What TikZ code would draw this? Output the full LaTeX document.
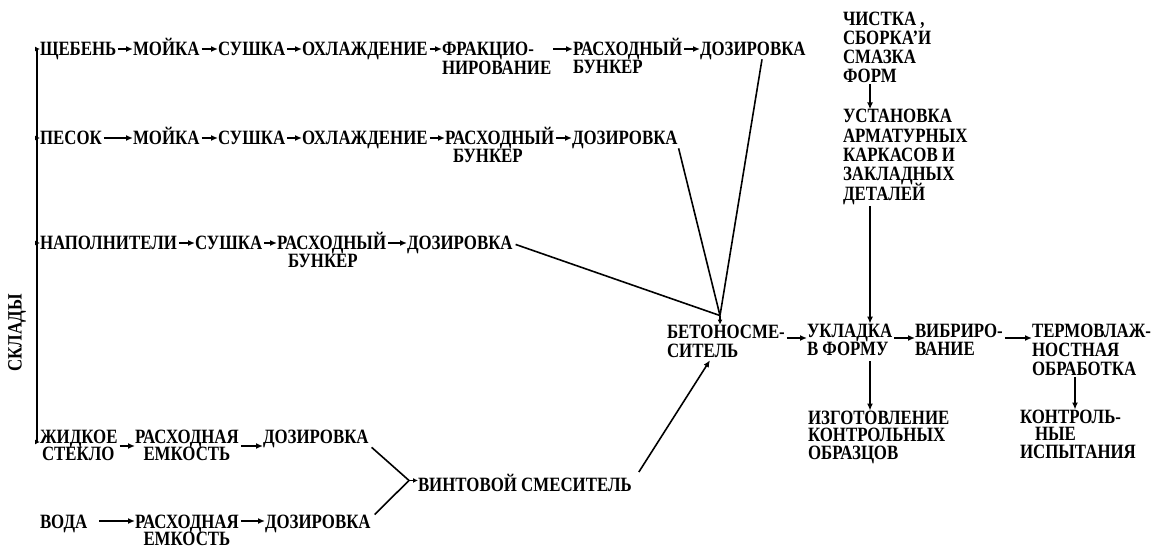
\documentclass[tikz,border=0pt]{standalone}
\usepackage{fontspec}
\newfontfamily\tw{Liberation Serif}[FakeStretch=0.83]
\usetikzlibrary{arrows.meta,calc}
\newcommand\myfs[1]{\fontsize{20.3}{#1}\selectfont\lineskiplimit=-100pt\relax}
\begin{document}
\begin{tikzpicture}[x=1pt,y=-1pt,
  lbl/.style={inner sep=0pt, outer sep=0pt, anchor=base west, align=left, font=\tw\bfseries\myfs{18}},
  lsp/.style={font=\tw\bfseries\myfs{#1}},
  ln/.style={line width=1.6pt},
  arr/.style={line width=1.6pt, -{Latex[length=7pt,width=6pt]}, shorten <=2pt},
  sarr/.style={line width=1.6pt, -{Latex[length=5pt,width=5pt]}}]
\useasboundingbox (0,0) rectangle (1151,555);

% (multi-line nodes are placed by the baseline of their last line)
% row 1
\node[lbl] (n11) at (40,55) {ЩЕБЕНЬ};
\node[lbl] (n12) at (133,55) {МОЙКА};
\node[lbl] (n13) at (218,55) {СУШКА};
\node[lbl] (n14) at (302,55) {ОХЛАЖДЕНИЕ};
\node[lbl,lsp=19] (n15) at (442,74) {ФРАКЦИО-\\НИРОВАНИЕ};
\node[lbl] (n16) at (573,73) {РАСХОДНЫЙ\\БУНКЕР};
\node[lbl] (n17) at (700,55) {ДОЗИРОВКА};
% row 2
\node[lbl] (n21) at (40,144) {ПЕСОК};
\node[lbl] (n22) at (133,144) {МОЙКА};
\node[lbl] (n23) at (218,144) {СУШКА};
\node[lbl] (n24) at (302,144) {ОХЛАЖДЕНИЕ};
\node[lbl] (n25) at (445,162) {РАСХОДНЫЙ\\\hspace*{8pt}БУНКЕР};
\node[lbl] (n26) at (572,144) {ДОЗИРОВКА};
% row 3
\node[lbl] (n31) at (40,249) {НАПОЛНИТЕЛИ};
\node[lbl] (n32) at (195,249) {СУШКА};
\node[lbl] (n33) at (277,267) {РАСХОДНЫЙ\\\hspace*{11pt}БУНКЕР};
\node[lbl] (n34) at (407,249) {ДОЗИРОВКА};
% row 4
\node[lbl,lsp=17.5] (n41) at (40,460.5) {ЖИДКОЕ\\\hspace*{2pt}СТЕКЛО};
\node[lbl,lsp=17.5,align=center] (n42) at (135,460.5) {РАСХОДНАЯ\\ЕМКОСТЬ};
\node[lbl] (n43) at (263,443) {ДОЗИРОВКА};
% row 5
\node[lbl] (n51) at (40,528) {ВОДА};
\node[lbl,lsp=17,align=center] (n52) at (135,545) {РАСХОДНАЯ\\ЕМКОСТЬ};
\node[lbl] (n53) at (265,528) {ДОЗИРОВКА};
% mixers and right part
\node[lbl] (vs) at (418,491) {ВИНТОВОЙ СМЕСИТЕЛЬ};
\node[lbl,lsp=19] (bs) at (667,357) {БЕТОНОСМЕ-\\СИТЕЛЬ};
\node[lbl] (uk) at (807,355) {УКЛАДКА\\В ФОРМУ};
\node[lbl] (vb) at (915,355) {ВИБРИРО-\\ВАНИЕ};
\node[lbl,lsp=19] (tv) at (1032,375) {ТЕРМОВЛАЖ-\\НОСТНАЯ\\ОБРАБОТКА};
\node[lbl,lsp=17.5] (iz) at (808,459) {ИЗГОТОВЛЕНИЕ\\КОНТРОЛЬНЫХ\\ОБРАЗЦОВ};
\node[lbl,lsp=17.5] (ki) at (1020,458) {КОНТРОЛЬ-\\\hspace*{15pt}НЫЕ\\ИСПЫТАНИЯ};
\node[lbl,lsp=19] (ch) at (843,82) {ЧИСТКА ,\\СБОРКА’И\\СМАЗКА\\ФОРМ};
\node[lbl,lsp=19.3] (us) at (843,200) {УСТАНОВКА\\АРМАТУРНЫХ\\КАРКАСОВ И\\ЗАКЛАДНЫХ\\ДЕТАЛЕЙ};
\node[lbl,rotate=90,anchor=center] (sk) at (17,333) {СКЛАДЫ};

% row levels (middle of the first text line)
\coordinate (r1) at (0,49);
\coordinate (r2) at (0,138);
\coordinate (r3) at (0,243);
\coordinate (r4) at (0,446);
\coordinate (r5) at (0,521);

% trunk
\coordinate (t1) at (37,49);
\coordinate (t2) at (37,138);
\coordinate (t3) at (37,243);
\coordinate (t4) at (37,442);
\draw[ln] (t1) -- (t4);
\draw[sarr] (t1) -- (t1 -| n11.west);
\draw[sarr] (t2) -- (t2 -| n21.west);
\draw[sarr] (t3) -- (t3 -| n31.west);
\draw[sarr] (t4) -- (t4 -| n41.west);

% row arrows
\foreach \a/\b in {n11/n12,n12/n13,n13/n14,n14/n15,n15/n16,n16/n17}
  \draw[arr] (\a.east |- r1) -- (\b.west |- r1);
\foreach \a/\b in {n21/n22,n22/n23,n23/n24,n24/n25,n25/n26}
  \draw[arr] (\a.east |- r2) -- (\b.west |- r2);
\foreach \a/\b in {n31/n32,n32/n33,n33/n34}
  \draw[arr] (\a.east |- r3) -- (\b.west |- r3);
\foreach \a/\b in {n41/n42,n42/n43}
  \draw[arr] (\a.east |- r4) -- (\b.west |- r4);
\draw[arr,shorten <=12pt] (n51.east |- r5) -- (n52.west |- r5);
\draw[arr] (n52.east |- r5) -- (n53.west |- r5);

% to screw mixer
\coordinate (vsin) at ([xshift=-9pt,yshift=2pt]vs.west);
\draw[ln] ([xshift=3pt]n43.south east) -- (vsin);
\draw[ln] ([xshift=4pt]n53.north east) -- (vsin);
\draw[sarr] (vsin) -- ([yshift=2pt]vs.west);

% to concrete mixer
\coordinate (bsin) at ([xshift=53pt,yshift=9pt]bs.north west);
\draw[ln] ([xshift=62pt]n17.south west) -- (bsin);
\draw[ln] ([xshift=1pt]n26.south east) -- (bsin);
\draw[ln] ([xshift=3pt]n34.east) -- (bsin);
\draw[sarr] (bsin) -- ([xshift=53pt]bs.north west);
\draw[arr] ([xshift=6pt]vs.north east) -- ([xshift=43pt,yshift=-3pt]bs.south west);

% right chain
\coordinate (rr) at (0,338);
\draw[arr] (bs.east |- rr) -- (uk.west |- rr);
\draw[arr] (uk.east |- rr) -- (vb.west |- rr);
\draw[arr] (vb.east |- rr) -- (tv.west |- rr);
\draw[arr] ([xshift=43pt]tv.south west) -- ([xshift=55pt]ki.north west);
\draw[arr,shorten <=6pt] ([xshift=63pt]uk.south west) -- ([xshift=62pt]iz.north west);
\draw[arr] ([xshift=27pt]ch.south west) -- ([xshift=27pt]us.north west);
\draw[arr] ([xshift=27pt]us.south west) -- ([xshift=63pt]uk.north west);
\end{tikzpicture}
\end{document}
